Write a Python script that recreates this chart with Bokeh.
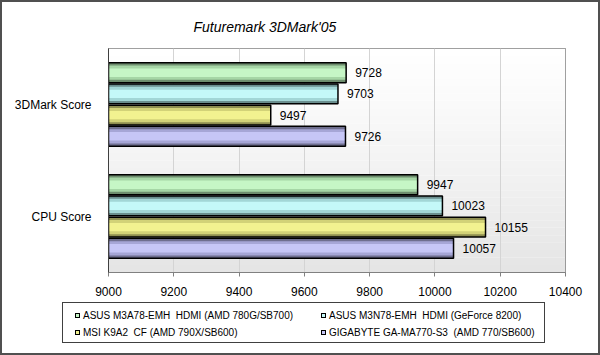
from bokeh.plotting import figure
from bokeh.layouts import column
from bokeh.models import (FactorRange, Range1d, FixedTicker, BoxAnnotation,
                          ColumnDataSource, Div)
from bokeh.transform import dodge
from bokeh.core.properties import value
from bokeh.embed import file_html
from bokeh.resources import INLINE

# ---- data ----
categories = ["3DMark Score", "CPU Score"]
series_names = [
    "ASUS M3A78-EMH  HDMI (AMD 780G/SB700)",
    "ASUS M3N78-EMH  HDMI (GeForce 8200)",
    "MSI K9A2  CF (AMD 790X/SB600)",
    "GIGABYTE GA-MA770-S3  (AMD 770/SB600)",
]
asus_m3a78 = [9728, 9947]
asus_m3n78 = [9703, 10023]
msi_k9a2 = [9497, 10155]
gigabyte_ma770 = [9726, 10057]
x_ticks = [9000, 9200, 9400, 9600, 9800, 10000, 10200, 10400]

series_values = [asus_m3a78, asus_m3n78, msi_k9a2, gigabyte_ma770]
light = ["#c6f6c6", "#c4f8f8", "#f2f290", "#c6c6f6"]
mid = ["#a6d6a6", "#a2d6d6", "#d2d278", "#a6a6d6"]
dark = ["#6e8e6e", "#6a8e8e", "#8e8e50", "#6e6e8e"]
offsets = [0.284, 0.095, -0.095, -0.284]
FONT = "Liberation Sans"

p = figure(width=596, height=300, output_backend="svg", toolbar_location=None,
           y_range=FactorRange(*categories[::-1]), x_range=Range1d(9000, 10400),
           min_border_left=106, min_border_right=33, min_border_top=45,
           min_border_bottom=30)

p.title.text = "Futuremark 3DMark'05"
p.title.text_font = FONT
p.title.text_font_style = "italic"
p.title.text_font_size = "14px"
p.title.text_color = "#000000"
p.title.text_line_height = 1.0
p.title.align = "left"
p.title.offset = 85
p.title.standoff = 28

# background gradient bands (plot area)
N = 30
for i in range(N):
    g = int(255 - 26 * (i / (N - 1)) ** 1.2)
    p.add_layout(BoxAnnotation(top=2 - 2 * i / N, bottom=2 - 2 * (i + 1) / N,
                               fill_color="#%02x%02x%02x" % (g, g, g), fill_alpha=1,
                               line_alpha=0, level="image"))

p.xgrid.ticker = FixedTicker(ticks=x_ticks)
p.xgrid.grid_line_color = "#d4d4d4"
p.ygrid.grid_line_color = None
p.outline_line_color = "#808080"
p.outline_line_width = 1

BH = 0.178
for i, (name, vals) in enumerate(zip(series_names, series_values)):
    src = ColumnDataSource(dict(cat=categories, val=vals,
                                lab=[str(v) for v in vals]))
    y = dodge("cat", offsets[i], range=p.y_range)
    p.hbar(y=y, right="val", left=9000, height=BH, source=src,
           fill_color=dark[i], line_color=None)
    p.hbar(y=y, right="val", left=9000, height=BH * 0.72, source=src,
           fill_color=mid[i], line_color=None)
    p.hbar(y=y, right="val", left=9000, height=BH * 0.42, source=src,
           fill_color=light[i], line_color=None)
    p.hbar(y=y, right="val", left=9000, height=BH, source=src,
           fill_color=None, line_color="black", line_width=1.5)
    p.text(x="val", y=y, text="lab", source=src, x_offset=9,
           text_baseline="middle", text_align="left",
           text_font=value(FONT), text_font_size="12px", text_color="black")

# axes
p.xaxis.ticker = FixedTicker(ticks=x_ticks)
p.xaxis.major_label_text_font = FONT
p.xaxis.major_label_text_font_size = "12px"
p.xaxis.major_label_text_color = "black"
p.xaxis.axis_line_color = "#808080"
p.xaxis.major_tick_line_color = "#808080"
p.xaxis.major_tick_out = 4
p.xaxis.major_tick_in = 0
p.xaxis.minor_tick_line_color = None
p.xaxis.major_label_standoff = 10

p.yaxis.major_label_text_font = FONT
p.yaxis.major_label_text_font_size = "12px"
p.yaxis.major_label_text_color = "black"
p.yaxis.axis_line_color = "#404040"
p.yaxis.major_tick_line_color = None
p.yaxis.major_label_standoff = 11

# ---- legend strip (HTML under the chart) ----
legend_order = [0, 1, 2, 3]          # row-major: 2 columns x 2 rows
col_x = [12, 258]
row_y = [13, 30]
parts = []
for k, idx in enumerate(legend_order):
    cx = col_x[k % 2]
    cy = row_y[k // 2]
    parts.append(
        f'<div style="position:absolute;left:{cx}px;top:{cy - 3}px;width:5px;height:5px;'
        f'border:1px solid #000;background:{light[idx]}"></div>'
        f'<div style="position:absolute;left:{cx + 8}px;top:{cy - 7}px;line-height:14px;'
        f'white-space:pre;">{series_names[idx]}</div>')
html = (
    f'<div style="position:relative;width:596px;height:51px;font-family:\'{FONT}\';'
    f'font-size:10px;color:#000;">'
    f'<div style="position:absolute;left:60px;top:0px;width:483px;height:41px;'
    f'border:1px solid #404040;background:#fff;">' + "".join(parts) + '</div></div>')
lg = Div(text=html, width=596, height=51, margin=(0, 0, 0, 0))

layout = column(p, lg, spacing=0, styles={"border": "2px solid #505050",
                                          "background": "#ffffff"})

open("out.html", "w").write(file_html(layout, INLINE))
